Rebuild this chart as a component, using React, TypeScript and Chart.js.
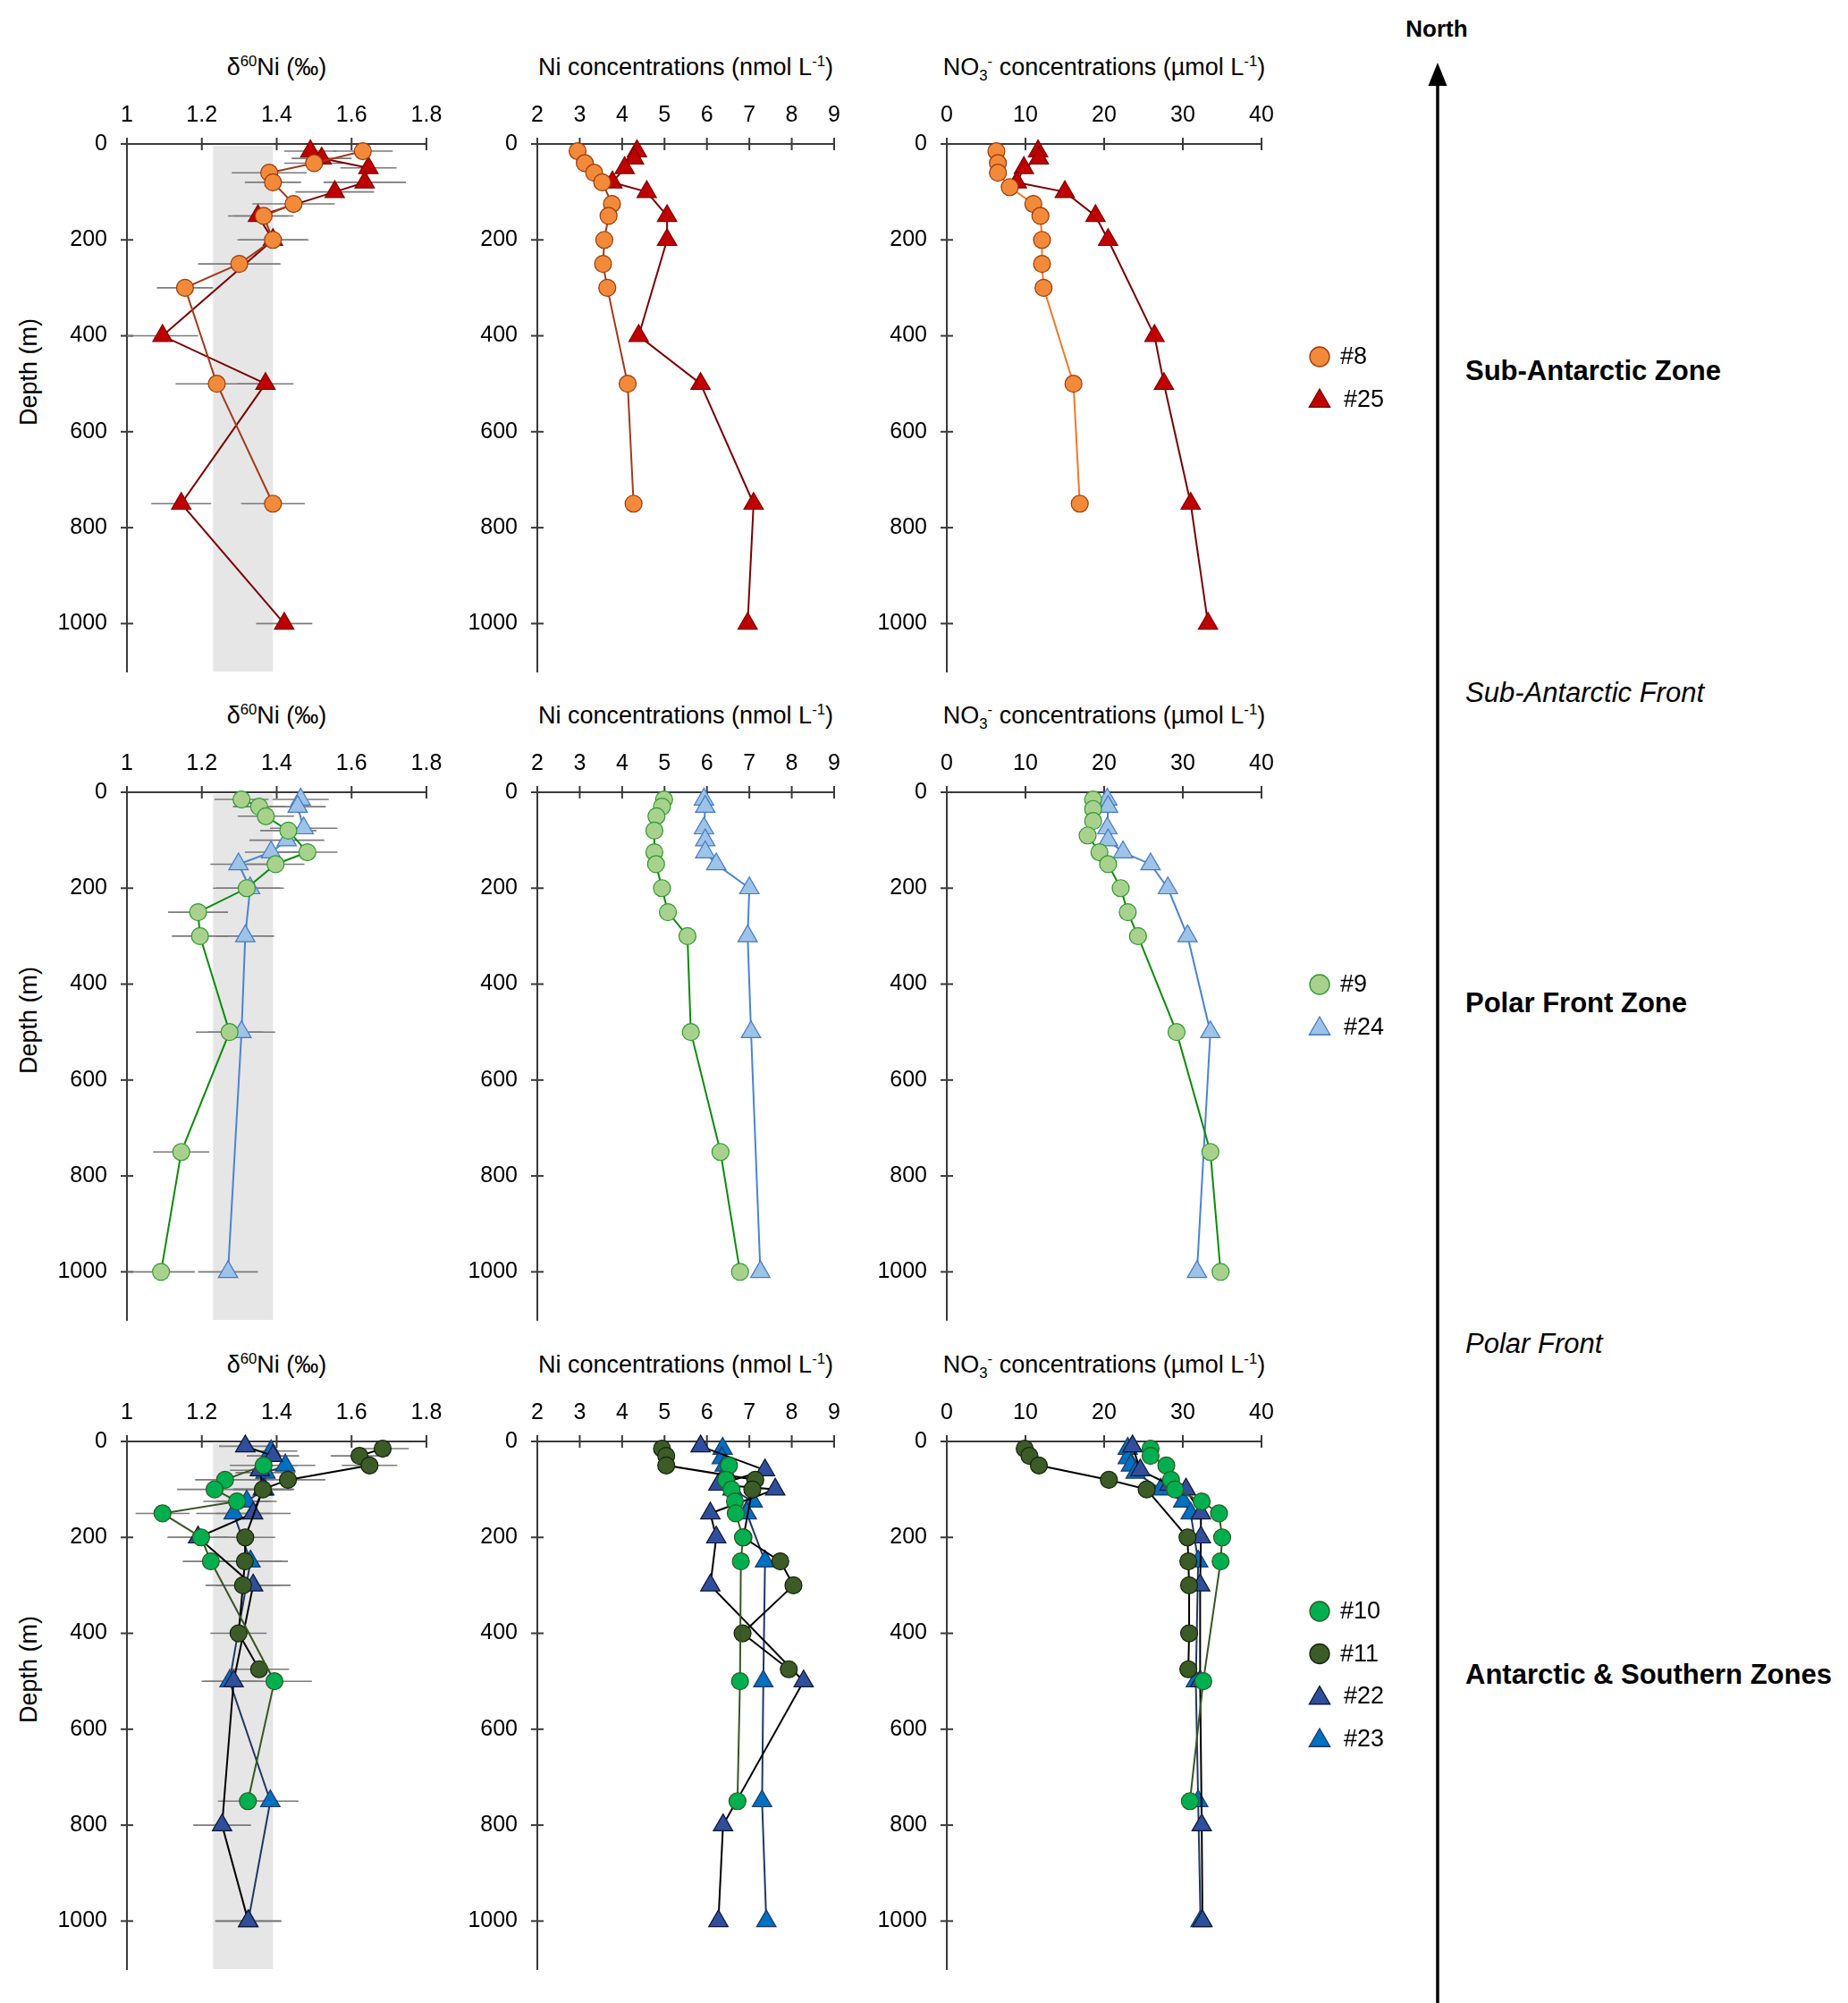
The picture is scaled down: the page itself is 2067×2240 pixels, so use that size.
import React, { useEffect, useRef } from 'react';
import { Chart, registerables } from 'chart.js';

Chart.register(...registerables);

const FONT = "'Liberation Sans', Arial, Helvetica, sans-serif";

// ---------- axes ----------
const DEPTH_TICKS = [0, 200, 400, 600, 800, 1000];
const DEPTH_MAX = 1100;
const ISO_TICKS = [1, 1.2, 1.4, 1.6, 1.8];
const NI_TICKS = [2, 3, 4, 5, 6, 7, 8, 9];
const NO3_TICKS = [0, 10, 20, 30, 40];
const ISO_BAND = [1.23, 1.39];

// ---------- Sub-Antarctic Zone ----------
const ST8_ISO_DEPTH = [15, 40, 60, 80, 125, 150, 200, 250, 300, 500, 750];
const ST8_ISO = [1.63, 1.5, 1.38, 1.39, 1.445, 1.365, 1.39, 1.3, 1.155, 1.24, 1.39];
const ST8_ISO_ERR = [0.08, 0.08, 0.1, 0.075, 0.11, 0.08, 0.095, 0.11, 0.075, 0.11, 0.085];
const ST8_NI_DEPTH = [15, 40, 60, 80, 125, 150, 200, 250, 300, 500, 750];
const ST8_NI = [2.95, 3.12, 3.34, 3.53, 3.76, 3.68, 3.58, 3.55, 3.65, 4.13, 4.27];
const ST8_NO3_DEPTH = [15, 40, 60, 90, 125, 150, 200, 250, 300, 500, 750];
const ST8_NO3 = [6.3, 6.5, 6.5, 8.0, 11.0, 11.9, 12.1, 12.1, 12.3, 16.1, 16.9];

const ST25_DEPTH = [15, 30, 50, 80, 100, 150, 200, 400, 500, 750, 1000];
const ST25_ISO = [1.49, 1.52, 1.645, 1.635, 1.555, 1.35, 1.39, 1.095, 1.37, 1.145, 1.42];
const ST25_ISO_ERR = [0.07, 0.08, 0.075, 0.11, 0.105, 0.08, 0.09, 0.095, 0.075, 0.08, 0.075];
const ST25_NI = [4.35, 4.28, 4.06, 3.77, 4.58, 5.06, 5.06, 4.39, 5.85, 7.1, 6.96];
const ST25_NO3 = [11.6, 11.7, 9.8, 8.9, 15.0, 18.9, 20.5, 26.4, 27.6, 31.0, 33.2];

// ---------- Polar Front Zone ----------
const ST9_DEPTH = [15, 30, 50, 80, 125, 150, 200, 250, 300, 500, 750, 1000];
const ST9_ISO = [1.306, 1.353, 1.371, 1.431, 1.482, 1.397, 1.32, 1.19, 1.195, 1.274, 1.145, 1.091];
const ST9_ISO_ERR = [0.072, 0.07, 0.075, 0.075, 0.08, 0.077, 0.09, 0.08, 0.075, 0.09, 0.075, 0.09];
const ST9_NI = [4.99, 4.94, 4.81, 4.76, 4.76, 4.8, 4.94, 5.08, 5.54, 5.62, 6.32, 6.78];
const ST9_NO3_DEPTH = [15, 35, 60, 90, 125, 150, 200, 250, 300, 500, 750, 1000];
const ST9_NO3 = [18.6, 18.6, 18.6, 17.9, 19.4, 20.5, 22.1, 23.0, 24.3, 29.2, 33.5, 34.8];

const ST24_DEPTH = [15, 30, 75, 100, 125, 150, 200, 300, 500, 1000];
const ST24_ISO = [1.464, 1.456, 1.472, 1.427, 1.385, 1.298, 1.329, 1.316, 1.306, 1.27];
const ST24_ISO_ERR = [0.075, 0.075, 0.09, 0.1, 0.07, 0.075, 0.09, 0.077, 0.09, 0.08];
const ST24_NI = [5.93, 5.96, 5.93, 5.96, 5.96, 6.22, 7.0, 6.96, 7.04, 7.26];
const ST24_NO3 = [20.4, 20.5, 20.4, 20.5, 22.4, 25.9, 28.1, 30.6, 33.5, 31.8];

// ---------- Antarctic & Southern Zones ----------
const ST10_DEPTH = [50, 80, 100, 125, 150, 200, 250, 500, 750];
const ST10_ISO = [1.365, 1.262, 1.234, 1.294, 1.095, 1.198, 1.224, 1.394, 1.323];
const ST10_ISO_ERR = [0.09, 0.08, 0.1, 0.09, 0.072, 0.09, 0.075, 0.1, 0.08];
const ST10_NI = [6.52, 6.45, 6.58, 6.66, 6.68, 6.85, 6.8, 6.78, 6.72];
const ST10_NO3_DEPTH = [15, 30, 50, 80, 100, 125, 150, 200, 250, 500, 750];
const ST10_NO3 = [25.9, 25.9, 27.9, 28.5, 29.0, 32.4, 34.6, 35.0, 34.8, 32.6, 30.9];

const ST11_DEPTH = [15, 30, 50, 80, 100, 200, 250, 300, 400, 475];
const ST11_ISO = [1.683, 1.621, 1.648, 1.43, 1.363, 1.316, 1.315, 1.31, 1.298, 1.353];
const ST11_ISO_ERR = [0.07, 0.077, 0.074, 0.1, 0.08, 0.08, 0.1, 0.1, 0.075, 0.08];
const ST11_NI = [4.94, 5.04, 5.04, 7.14, 7.07, 6.86, 7.73, 8.04, 6.84, 7.93];
const ST11_NO3 = [9.9, 10.5, 11.7, 20.6, 25.4, 30.6, 30.7, 30.8, 30.8, 30.7];

const ST22_ISO_DEPTH = [10, 30, 60, 100, 150, 200, 300, 500, 800, 1000];
const ST22_ISO = [1.316, 1.39, 1.355, 1.363, 1.337, 1.19, 1.337, 1.285, 1.254, 1.324];
const ST22_ISO_ERR = [0.07, 0.07, 0.08, 0.08, 0.1, 0.08, 0.1, 0.08, 0.077, 0.088];
const ST22_DEPTH = [10, 60, 90, 100, 150, 200, 300, 500, 800, 1000];
const ST22_NI = [5.85, 7.37, 6.27, 7.61, 6.08, 6.22, 6.08, 8.28, 6.38, 6.27];
const ST22_NO3 = [23.6, 24.6, 28.3, 30.4, 32.3, 32.3, 32.2, 32.2, 32.4, 32.5];

const ST23_ISO_DEPTH = [20, 50, 65, 100, 125, 150, 250, 500, 750, 1000];
const ST23_ISO = [1.385, 1.423, 1.37, 1.367, 1.32, 1.285, 1.33, 1.274, 1.383, 1.324];
const ST23_ISO_ERR = [0.07, 0.08, 0.08, 0.08, 0.08, 0.1, 0.1, 0.075, 0.075, 0.088];
const ST23_DEPTH = [15, 35, 50, 65, 100, 125, 150, 250, 500, 750, 1000];
const ST23_NI = [6.37, 6.35, 6.42, 6.45, 6.6, 7.08, 6.94, 7.37, 7.33, 7.3, 7.4];
const ST23_NO3 = [23.0, 23.0, 23.4, 24.0, 27.2, 30.05, 31.0, 31.95, 31.65, 31.95, 32.25];

// ---------- styles ----------
type Style = { fill: string; edge: string; line: string; shape: 'circle' | 'triangle' };
const STYLES: Record<string, Style> = {
  s8: { fill: '#F28A3A', edge: '#9A3A0A', line: '#A23A1C', shape: 'circle' },
  s25: { fill: '#C00000', edge: '#800000', line: '#7A0000', shape: 'triangle' },
  s9: { fill: '#A9D18E', edge: '#2E9A2E', line: '#0A8C0A', shape: 'circle' },
  s24: { fill: '#9DC3E6', edge: '#4678C8', line: '#4A84D2', shape: 'triangle' },
  s10: { fill: '#00B050', edge: '#2E5A1E', line: '#375623', shape: 'circle' },
  s11: { fill: '#3B5B27', edge: '#16240C', line: '#000000', shape: 'circle' },
  s22: { fill: '#2F4F9C', edge: '#0E1630', line: '#000000', shape: 'triangle' },
  s23: { fill: '#0070C0', edge: '#1F3864', line: '#1F3864', shape: 'triangle' },
};

type Series = { label: string; st: Style; depths: number[]; values: number[]; errs?: number[]; line?: string };
const ser = (label: string, key: string, depths: number[], values: number[], errs?: number[], line?: string): Series =>
  ({ label, st: STYLES[key], depths, values, errs, line });

type Kind = 'iso' | 'ni' | 'no3';
type Panel = { row: number; col: number; kind: Kind; series: Series[] };

const PANELS: Panel[] = [
  { row: 0, col: 0, kind: 'iso', series: [ser('#8', 's8', ST8_ISO_DEPTH, ST8_ISO, ST8_ISO_ERR), ser('#25', 's25', ST25_DEPTH, ST25_ISO, ST25_ISO_ERR)] },
  { row: 0, col: 1, kind: 'ni', series: [ser('#8', 's8', ST8_NI_DEPTH, ST8_NI), ser('#25', 's25', ST25_DEPTH, ST25_NI)] },
  { row: 0, col: 2, kind: 'no3', series: [ser('#8', 's8', ST8_NO3_DEPTH, ST8_NO3, undefined, '#F07828'), ser('#25', 's25', ST25_DEPTH, ST25_NO3)] },
  { row: 1, col: 0, kind: 'iso', series: [ser('#9', 's9', ST9_DEPTH, ST9_ISO, ST9_ISO_ERR), ser('#24', 's24', ST24_DEPTH, ST24_ISO, ST24_ISO_ERR)] },
  { row: 1, col: 1, kind: 'ni', series: [ser('#9', 's9', ST9_DEPTH, ST9_NI), ser('#24', 's24', ST24_DEPTH, ST24_NI)] },
  { row: 1, col: 2, kind: 'no3', series: [ser('#9', 's9', ST9_NO3_DEPTH, ST9_NO3), ser('#24', 's24', ST24_DEPTH, ST24_NO3)] },
  { row: 2, col: 0, kind: 'iso', series: [ser('#10', 's10', ST10_DEPTH, ST10_ISO, ST10_ISO_ERR), ser('#11', 's11', ST11_DEPTH, ST11_ISO, ST11_ISO_ERR), ser('#22', 's22', ST22_ISO_DEPTH, ST22_ISO, ST22_ISO_ERR), ser('#23', 's23', ST23_ISO_DEPTH, ST23_ISO, ST23_ISO_ERR)] },
  { row: 2, col: 1, kind: 'ni', series: [ser('#10', 's10', ST10_DEPTH, ST10_NI), ser('#11', 's11', ST11_DEPTH, ST11_NI), ser('#22', 's22', ST22_DEPTH, ST22_NI), ser('#23', 's23', ST23_DEPTH, ST23_NI)] },
  { row: 2, col: 2, kind: 'no3', series: [ser('#10', 's10', ST10_NO3_DEPTH, ST10_NO3), ser('#11', 's11', ST11_DEPTH, ST11_NO3), ser('#22', 's22', ST22_DEPTH, ST22_NO3), ser('#23', 's23', ST23_DEPTH, ST23_NO3)] },
];

// ---------- layout ----------
const COL_LEFT = [142, 601, 1059];
const COL_W = [335, 332, 352];
const ROW_TOP = [161, 886, 1612];
const PLOT_H = 590;
const TOP_SPACE = 70;
const BOTTOM_SPACE = 14;
const LEFT_SPACE = [142, 130, 130];
const RIGHT_SPACE = [25, 25, 190];
const LEGEND_TOP = [238, 215, 190];
const LEGEND_GAP = 47.5;
const LEGEND_DX = 65;
const LEGEND_TEXT_DX = 88;
const CIRC_R = 9.5;
const TRI_R = 12.5;
const AXIS_COLOR = '#3a3a3a';
const TICK_HALF = 7;

function drawMarker(ctx: CanvasRenderingContext2D, shape: string, x: number, y: number, r: number, fill: string, edge: string) {
  ctx.beginPath();
  if (shape === 'triangle') {
    for (let k = 0; k < 3; k++) {
      const a = (k * 2 * Math.PI) / 3;
      const px = x + Math.sin(a) * r;
      const py = y - Math.cos(a) * r;
      if (k === 0) ctx.moveTo(px, py); else ctx.lineTo(px, py);
    }
    ctx.closePath();
  } else {
    ctx.arc(x, y, r, 0, Math.PI * 2);
  }
  ctx.fillStyle = fill;
  ctx.fill();
  ctx.lineWidth = 1.3;
  ctx.strokeStyle = edge;
  ctx.stroke();
}

const decorPlugin = {
  id: 'panelDecor',
  beforeDatasetsDraw(chart: any, _args: any, opts: any) {
    const { ctx, chartArea: ca, scales } = chart;
    const x = scales.x, y = scales.y;
    ctx.save();
    if (opts.band) {
      const x0 = x.getPixelForValue(opts.band[0]);
      const x1 = x.getPixelForValue(opts.band[1]);
      ctx.fillStyle = '#E6E6E6';
      ctx.fillRect(x0, ca.top + 2, x1 - x0, ca.bottom - ca.top - 2);
    }
    // crossing tick marks
    ctx.strokeStyle = AXIS_COLOR;
    ctx.lineWidth = 2;
    x.ticks.forEach((t: any) => {
      const px = x.getPixelForValue(t.value);
      ctx.beginPath();
      ctx.moveTo(px, ca.top - TICK_HALF);
      ctx.lineTo(px, ca.top + TICK_HALF);
      ctx.stroke();
    });
    y.ticks.forEach((t: any) => {
      const py = y.getPixelForValue(t.value);
      ctx.beginPath();
      ctx.moveTo(ca.left - TICK_HALF, py);
      ctx.lineTo(ca.left + TICK_HALF, py);
      ctx.stroke();
    });
    // error bars
    ctx.strokeStyle = '#7a7a7a';
    ctx.lineWidth = 1.6;
    chart.data.datasets.forEach((ds: any) => {
      if (!ds.errs) return;
      ds.data.forEach((p: any, i: number) => {
        const e = ds.errs[i];
        const py = y.getPixelForValue(p.y);
        ctx.beginPath();
        ctx.moveTo(x.getPixelForValue(p.x - e), py);
        ctx.lineTo(x.getPixelForValue(p.x + e), py);
        ctx.stroke();
      });
    });
    ctx.restore();
  },
  afterDraw(chart: any, _args: any, opts: any) {
    if (opts.legendTop == null) return;
    const { ctx, chartArea: ca } = chart;
    ctx.save();
    chart.data.datasets.forEach((ds: any, i: number) => {
      const cy = ca.top + opts.legendTop + i * LEGEND_GAP;
      const tri = ds.pointStyle === 'triangle';
      drawMarker(ctx, ds.pointStyle, ca.right + LEGEND_DX, cy + (tri ? 2 : 0), tri ? 13.5 : 11, ds.pointBackgroundColor, ds.pointBorderColor);
      ctx.fillStyle = '#000';
      ctx.font = `27px ${FONT}`;
      ctx.textAlign = 'left';
      ctx.textBaseline = 'middle';
      ctx.fillText(ds.label, ca.right + LEGEND_TEXT_DX + (tri ? 4 : 0), cy + 1);
    });
    ctx.restore();
  },
};

function PanelChart({ panel }: { panel: Panel }) {
  const ref = useRef<HTMLCanvasElement>(null);
  const { row, col, kind, series } = panel;
  const ls = LEFT_SPACE[col];
  const rs = RIGHT_SPACE[col];
  const w = ls + COL_W[col] + rs;
  const h = TOP_SPACE + PLOT_H + BOTTOM_SPACE;

  useEffect(() => {
    const canvas = ref.current;
    if (!canvas) return;
    const ticks = kind === 'iso' ? ISO_TICKS : kind === 'ni' ? NI_TICKS : NO3_TICKS;
    const chart = new Chart(canvas, {
      type: 'scatter',
      data: {
        datasets: series.map((s) => ({
          label: s.label,
          data: s.depths.map((d, i) => ({ x: s.values[i], y: d })),
          showLine: true,
          borderColor: s.line || s.st.line,
          borderWidth: 2,
          tension: 0,
          pointStyle: s.st.shape,
          pointRadius: s.st.shape === 'triangle' ? TRI_R : CIRC_R,
          pointHoverRadius: s.st.shape === 'triangle' ? TRI_R : CIRC_R,
          pointBackgroundColor: s.st.fill,
          pointBorderColor: s.st.edge,
          pointBorderWidth: 1.2,
          clip: false,
          errs: s.errs,
        })) as any,
      },
      options: {
        animation: false,
        responsive: false,
        maintainAspectRatio: false,
        events: [],
        layout: { padding: { left: 0, right: rs, top: 0, bottom: BOTTOM_SPACE } },
        plugins: {
          legend: { display: false },
          tooltip: { enabled: false },
          title: { display: false },
          panelDecor: {
            band: kind === 'iso' ? ISO_BAND : null,
            legendTop: kind === 'no3' ? LEGEND_TOP[row] : null,
          },
        } as any,
        scales: {
          x: {
            type: 'linear',
            position: 'top',
            min: ticks[0],
            max: ticks[ticks.length - 1],
            afterBuildTicks: (s: any) => { s.ticks = ticks.map((v) => ({ value: v })); },
            afterFit: (s: any) => { s.height = TOP_SPACE; s.paddingLeft = 0; s.paddingRight = 0; },
            ticks: {
              color: '#000',
              padding: 17,
              maxRotation: 0,
              autoSkip: false,
              font: { family: FONT, size: 25 },
              callback: (v: any) => String(v),
            },
            grid: { display: false, drawTicks: false },
            border: { display: true, color: AXIS_COLOR, width: 2 },
          },
          y: {
            type: 'linear',
            reverse: true,
            min: 0,
            max: DEPTH_MAX,
            afterBuildTicks: (s: any) => { s.ticks = DEPTH_TICKS.map((v) => ({ value: v })); },
            afterFit: (s: any) => { s.width = ls; s.paddingTop = 0; s.paddingBottom = 0; },
            ticks: {
              color: '#000',
              padding: 22,
              autoSkip: false,
              font: { family: FONT, size: 25 },
              callback: (v: any) => String(v),
            },
            grid: { display: false, drawTicks: false },
            border: { display: true, color: AXIS_COLOR, width: 2 },
          },
        },
      } as any,
      plugins: [decorPlugin as any],
    });
    return () => chart.destroy();
  }, []);

  return (
    <canvas
      ref={ref}
      width={w}
      height={h}
      style={{ position: 'absolute', left: COL_LEFT[col] - ls, top: ROW_TOP[row] - TOP_SPACE, width: w, height: h }}
    />
  );
}

const supStyle: React.CSSProperties = { fontSize: '0.62em', verticalAlign: 'super', lineHeight: 0 };
const subStyle: React.CSSProperties = { fontSize: '0.62em', verticalAlign: 'sub', lineHeight: 0 };

function TitleText({ kind }: { kind: Kind }) {
  if (kind === 'iso') return <>δ<span style={supStyle}>60</span>Ni (‰)</>;
  if (kind === 'ni') return <>Ni concentrations (nmol L<span style={supStyle}>-1</span>)</>;
  return <>NO<span style={subStyle}>3</span><span style={supStyle}>-</span> concentrations (µmol L<span style={supStyle}>-1</span>)</>;
}

const ZONES = [
  { text: 'Sub-Antarctic Zone', y: 415, italic: false },
  { text: 'Sub-Antarctic Front', y: 775, italic: true },
  { text: 'Polar Front Zone', y: 1122, italic: false },
  { text: 'Polar Front', y: 1503, italic: true },
  { text: 'Antarctic & Southern Zones', y: 1873, italic: false },
];

export default function App() {
  return (
    <div style={{ position: 'absolute', left: 0, top: 0, width: 2067, height: 2240, background: '#fff', overflow: 'hidden', fontFamily: FONT, color: '#000' }}>
      {PANELS.map((p, i) => (
        <div
          key={'t' + i}
          style={{
            position: 'absolute',
            left: COL_LEFT[p.col] - 60,
            width: COL_W[p.col] + 120,
            top: ROW_TOP[p.row] - 86,
            transform: 'translateY(-50%)',
            textAlign: 'center',
            fontSize: 27,
            lineHeight: '32px',
            whiteSpace: 'nowrap',
          }}
        >
          <TitleText kind={p.kind} />
        </div>
      ))}
      {ROW_TOP.map((t, i) => (
        <div
          key={'d' + i}
          style={{
            position: 'absolute',
            left: 32,
            top: t + 255,
            transform: 'translate(-50%, -50%) rotate(-90deg)',
            fontSize: 27,
            lineHeight: '32px',
            whiteSpace: 'nowrap',
          }}
        >
          Depth (m)
        </div>
      ))}
      {PANELS.map((p, i) => <PanelChart key={'c' + i} panel={p} />)}
      <div style={{ position: 'absolute', left: 1607, top: 32, transform: 'translate(-50%, -50%)', fontSize: 26, fontWeight: 'bold', whiteSpace: 'nowrap' }}>North</div>
      <svg style={{ position: 'absolute', left: 1596, top: 70 }} width={24} height={2170}>
        <line x1={12} y1={20} x2={12} y2={2170} stroke="#000" strokeWidth={3.5} />
        <polygon points="12,0 1.5,26 22.5,26" fill="#000" />
      </svg>
      {ZONES.map((z, i) => (
        <div
          key={'z' + i}
          style={{
            position: 'absolute',
            left: 1639,
            top: z.y,
            transform: 'translateY(-50%)',
            fontSize: 31,
            fontWeight: z.italic ? 'normal' : 'bold',
            fontStyle: z.italic ? 'italic' : 'normal',
            whiteSpace: 'nowrap',
          }}
        >
          {z.text}
        </div>
      ))}
    </div>
  );
}
